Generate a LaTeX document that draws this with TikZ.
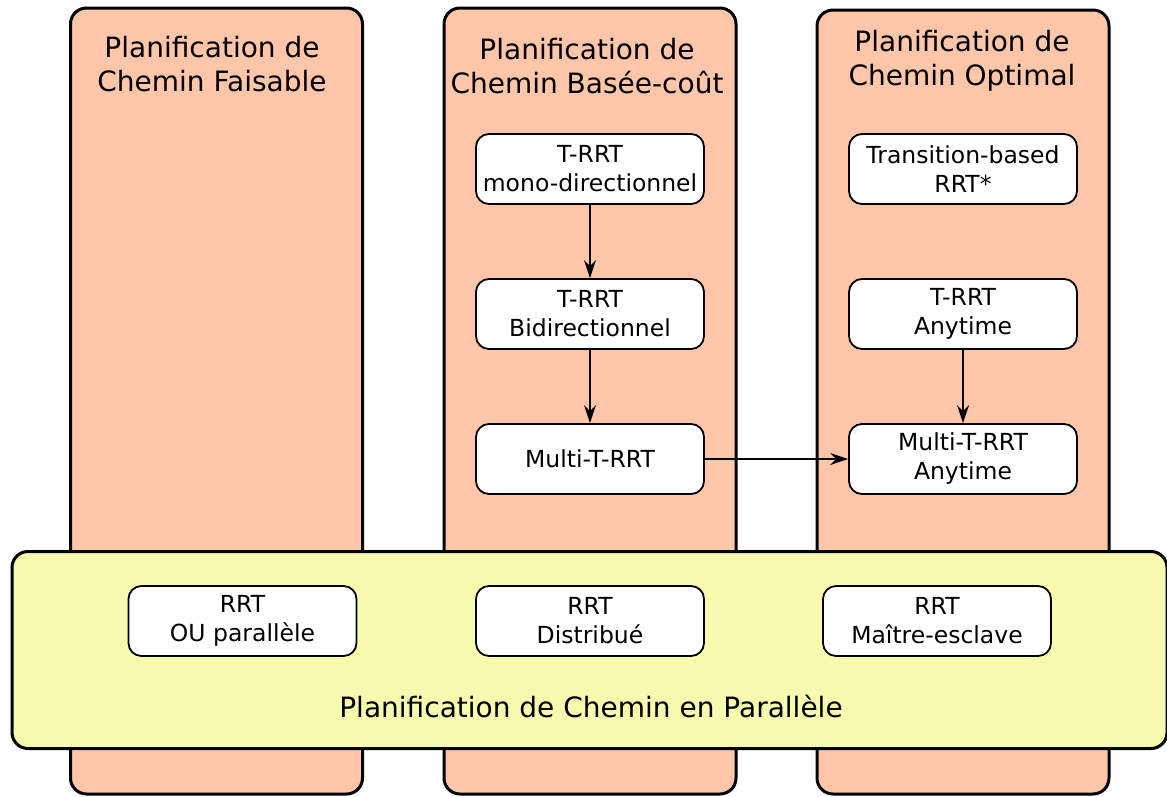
\documentclass[tikz,border=0pt]{standalone}
\usepackage{fontspec}
\setmainfont{DejaVu Sans}
\usetikzlibrary{arrows.meta}
\definecolor{salmon}{HTML}{FFC6AA}
\definecolor{lemon}{HTML}{F8FBAD}
\tikzset{
  column/.style={draw=black, line width=3pt, fill=salmon, rounded corners=16pt,
    minimum width=292pt, inner sep=0pt},
  band/.style={draw=black, line width=3pt, fill=lemon, rounded corners=16pt,
    minimum width=1155pt, minimum height=197pt, inner sep=0pt},
  algo/.style={draw=black, line width=1.8pt, fill=white, rounded corners=13pt,
    minimum width=228pt, minimum height=70pt, align=center, inner sep=0pt,
    font=\fontsize{23.5}{29}\selectfont},
  title/.style={align=center, font=\fontsize{28}{34}\selectfont, inner sep=0pt},
  link/.style={line width=2.2pt, -{Stealth[length=18pt,width=12pt,inset=6pt]}}
}
\begin{document}
\begin{tikzpicture}[x=1pt,y=-1pt]
\useasboundingbox (0,0) rectangle (1167,796);
% columns
\node[column, minimum height=786pt] (c1) at (216.5,401) {};
\node[column, minimum height=786pt] (c2) at (590,401) {};
\node[column, minimum height=784pt] (c3) at (963,402) {};
\node[title] (t1) at (212,64.5) {Planification de\\Chemin Faisable};
\node[title] (t2) at (587,66.5) {Planification de\\Chemin Basée-coût};
\node[title] (t3) at (962,60.5) {Planification de\\Chemin Optimal};
% parallel band
\node[band] (pb) at (589.5,650) {};
\node[title] (tp) at (591,706) {Planification de Chemin en Parallèle};
% algorithm boxes
\node[algo] (a1) at (590,169) {T-RRT\\mono-directionnel};
\node[algo] (a2) at (590,314) {T-RRT\\Bidirectionnel};
\node[algo] (a3) at (590,459) {Multi-T-RRT};
\node[algo] (b1) at (963,169) {Transition-based\\RRT*};
\node[algo] (b2) at (963,314) {T-RRT\\Anytime};
\node[algo] (b3) at (963,459) {Multi-T-RRT\\Anytime};
\node[algo] (p1) at (242.5,621) {RRT\\OU parallèle};
\node[algo] (p2) at (590,621) {RRT\\Distribué};
\node[algo] (p3) at (937,621) {RRT\\Maître-esclave};
% connectors
\draw[link] (a1) -- (a2);
\draw[link] (a2) -- (a3);
\draw[link] (b2) -- (b3);
\draw[link] (a3) -- (b3);
\end{tikzpicture}
\end{document}
